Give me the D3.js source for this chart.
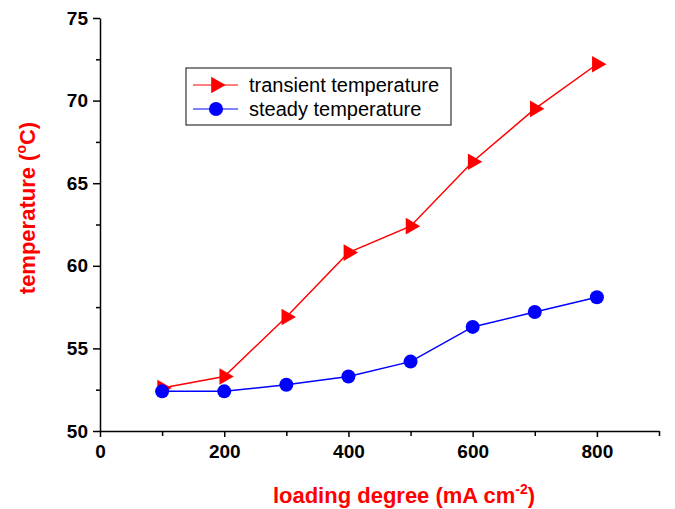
<!DOCTYPE HTML>
<html>
<head>
	<meta charset="UTF-8">
	<script src="https://d3js.org/d3.v7.min.js"></script>
	<style type="text/css">
	body { margin: 0; background: #fff; }
	text { font-family: Arial, "Liberation Sans", sans-serif; }
	.axis path, .axis line { stroke: #000; stroke-width: 1.5; }
	</style>
	<title>temperature vs loading degree</title>
</head>
<body>
<div id="svgArea"></div>
<script>
// data
var loading = [100, 200, 300, 400, 500, 600, 700, 800];
var transientTemp = [52.6, 53.3, 56.9, 60.8, 62.4, 66.3, 69.5, 72.2];
var steadyTemp = [52.4, 52.4, 52.8, 53.3, 54.2, 56.3, 57.2, 58.1];
var xTicks = [0, 200, 400, 600, 800];
var xMinor = [100, 300, 500, 700, 900];
var yTicks = [50, 55, 60, 65, 70, 75];
var yMinor = [52.5, 57.5, 62.5, 67.5, 72.5];
var seriesNames = ["transient temperature", "steady temperature"];

var width = 675, height = 509;
var svg = d3.select("#svgArea").append("svg")
    .attr("width", width)
    .attr("height", height);

var xScale = d3.scaleLinear().domain([0, 900]).range([100, 659]);
var yScale = d3.scaleLinear().domain([50, 75]).range([431, 18]);

// minor ticks
svg.append("g")
    .attr("class", "axis")
    .attr("transform", "translate(0,431)")
    .call(d3.axisBottom(xScale).tickValues(xMinor).tickSize(5).tickFormat(""))
    .select(".domain").remove();
svg.append("g")
    .attr("class", "axis")
    .attr("transform", "translate(100,0)")
    .call(d3.axisLeft(yScale).tickValues(yMinor).tickSize(4).tickFormat(""))
    .select(".domain").remove();

// major axes
var gx = svg.append("g")
    .attr("class", "x axis")
    .attr("transform", "translate(0,431)")
    .call(d3.axisBottom(xScale).tickValues(xTicks).tickSize(6).tickSizeOuter(0).tickPadding(8));
var gy = svg.append("g")
    .attr("class", "y axis")
    .attr("transform", "translate(100,0)")
    .call(d3.axisLeft(yScale).tickValues(yTicks).tickSize(7).tickSizeOuter(0).tickPadding(5));
[gx, gy].forEach(function(g) {
    g.attr("font-family", "Arial, 'Liberation Sans', sans-serif")
     .attr("font-size", 19)
     .attr("font-weight", "bold");
    g.selectAll("text").attr("fill", "#000");
});

var line = d3.line()
    .x(function(d, i) { return xScale(loading[i]); })
    .y(function(d) { return yScale(d); });

var tri = d3.symbol().type(d3.symbolTriangle).size(120);

// transient
svg.append("path")
    .attr("d", line(transientTemp))
    .attr("fill", "none")
    .attr("stroke", "#ff0000")
    .attr("stroke-width", 1.5);
svg.selectAll(".tri").data(transientTemp).enter().append("path")
    .attr("class", "tri")
    .attr("d", tri)
    .attr("transform", function(d, i) { return "translate(" + xScale(loading[i]) + "," + yScale(d) + ") rotate(90)"; })
    .attr("fill", "#ff0000");

// steady
svg.append("path")
    .attr("d", line(steadyTemp))
    .attr("fill", "none")
    .attr("stroke", "#0000ff")
    .attr("stroke-width", 1.5);
svg.selectAll(".dot").data(steadyTemp).enter().append("circle")
    .attr("class", "dot")
    .attr("cx", function(d, i) { return xScale(loading[i]); })
    .attr("cy", function(d) { return yScale(d); })
    .attr("r", 7)
    .attr("fill", "#0000ff");

// legend
var legend = svg.append("g").attr("transform", "translate(186,68)");
legend.append("rect")
    .attr("width", 265).attr("height", 57)
    .attr("fill", "#fff").attr("stroke", "#333").attr("stroke-width", 1.2);
var colors = ["#ff0000", "#0000ff"];
seriesNames.forEach(function(name, i) {
    var y = 17 + i * 24;
    legend.append("line")
        .attr("x1", 7).attr("x2", 52).attr("y1", y).attr("y2", y)
        .attr("stroke", colors[i]).attr("stroke-width", 1.2);
    if (i === 0) {
        legend.append("path").attr("d", tri)
            .attr("transform", "translate(30," + y + ") rotate(90)")
            .attr("fill", colors[i]);
    } else {
        legend.append("circle").attr("cx", 30).attr("cy", y).attr("r", 7).attr("fill", colors[i]);
    }
    legend.append("text")
        .attr("x", 63).attr("y", y + 7)
        .style("font-size", "20px")
        .text(name);
});

// axis titles
var yt = svg.append("text")
    .attr("transform", "translate(35,208) rotate(-90)")
    .attr("text-anchor", "middle")
    .style("font-size", "22px").style("font-weight", "bold").style("fill", "#ff0000");
yt.append("tspan").text("temperature (");
yt.append("tspan").attr("dy", -9).style("font-size", "14px").text("o");
yt.append("tspan").attr("dy", 9).text("C)");

var xt = svg.append("text")
    .attr("x", 404).attr("y", 503)
    .attr("text-anchor", "middle")
    .style("font-size", "22px").style("font-weight", "bold").style("fill", "#ff0000");
xt.append("tspan").text("loading degree (mA cm");
xt.append("tspan").attr("dy", -9).style("font-size", "14px").text("-2");
xt.append("tspan").attr("dy", 9).text(")");
</script>
</body>
</html>
